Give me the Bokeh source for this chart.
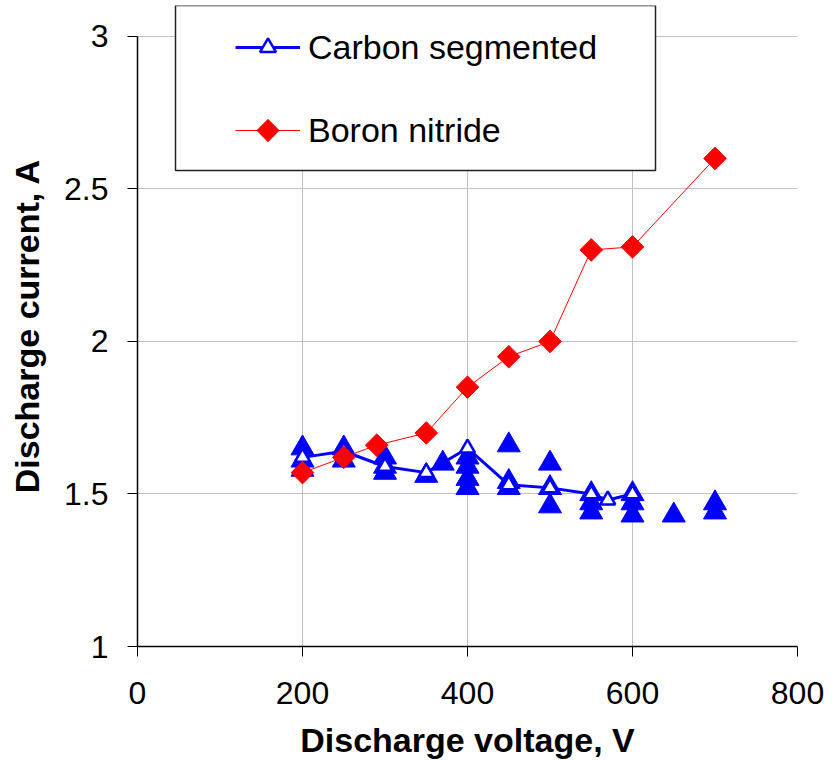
import numpy as np
from bokeh.plotting import figure
from bokeh.models import (FixedTicker, CustomJSTickFormatter, Legend, LegendItem,
                          PolyAnnotation, BoxAnnotation, Range1d)
from bokeh.embed import file_html
from bokeh.resources import INLINE

# Carbon segmented (line series, open triangles)
cs_voltage = [200, 250, 300, 350, 400, 450, 500, 550, 570, 600]
cs_current = [1.62, 1.64, 1.59, 1.57, 1.65, 1.53, 1.52, 1.50, 1.48, 1.50]

# Carbon segmented individual measurements (filled triangles)
pts_voltage = [200, 200, 200, 250, 250, 300, 300, 300, 350, 370,
               400, 400, 400, 400, 450, 450, 450, 500, 500, 500,
               550, 550, 550, 600, 600, 600, 650, 700, 700]
pts_current = [1.65, 1.61, 1.58, 1.65, 1.61, 1.62, 1.59, 1.57, 1.56, 1.60,
               1.62, 1.59, 1.55, 1.52, 1.66, 1.54, 1.52, 1.60, 1.52, 1.46,
               1.50, 1.47, 1.44, 1.50, 1.47, 1.43, 1.43, 1.47, 1.44]

# Boron nitride
bn_voltage = [200, 250, 290, 350, 400, 450, 500, 550, 600, 700]
bn_current = [1.57, 1.62, 1.66, 1.70, 1.85, 1.95, 2.00, 2.30, 2.31, 2.60]

x_ticks = [0, 200, 400, 600, 800]
y_ticks = [1, 1.5, 2, 2.5, 3]

FONT = "Liberation Sans"

# plot area: y from 1 to 3 spans 612 px; extra headroom above 3 so the
# legend frame (which sits above the top of the axis) is not clipped
AXIS_PX = 612
HEADROOM_PX = 31
y_end = y_ticks[-1] + HEADROOM_PX * (y_ticks[-1] - y_ticks[0]) / AXIS_PX

p = figure(width=838, height=761, output_backend="svg", toolbar_location=None,
           x_range=Range1d(x_ticks[0], x_ticks[-1]), y_range=Range1d(y_ticks[0], y_end),
           min_border_left=137, min_border_right=41, min_border_top=36 - HEADROOM_PX,
           min_border_bottom=113)
p.outline_line_color = None
p.background_fill_color = "white"
p.border_fill_color = "white"

for ax in (p.xaxis[0], p.yaxis[0]):
    ax.axis_line_color = "black"
    ax.axis_line_width = 1.5
    ax.major_tick_line_color = "black"
    ax.major_tick_line_width = 1
    ax.major_tick_out = 10
    ax.major_tick_in = 0
    ax.minor_tick_line_color = None
    ax.major_label_text_font = FONT
    ax.major_label_text_font_size = "32px"
    ax.major_label_text_color = "black"
    ax.axis_label_text_font = FONT
    ax.axis_label_text_font_size = "34px"
    ax.axis_label_text_font_style = "bold"
    ax.axis_label_text_color = "black"

p.yaxis.bounds = (y_ticks[0], y_ticks[-1])
p.xaxis.ticker = FixedTicker(ticks=x_ticks)
p.yaxis.ticker = FixedTicker(ticks=y_ticks)
p.yaxis.formatter = CustomJSTickFormatter(code="return String(tick)")
p.xaxis.formatter = CustomJSTickFormatter(code="return String(tick)")
p.xaxis.major_label_standoff = 25
p.yaxis.major_label_standoff = 19
p.xaxis.axis_label = "Discharge voltage, V"
p.yaxis.axis_label = "Discharge current, A"
p.xaxis.axis_label_standoff = 14
p.yaxis.axis_label_standoff = 15

p.grid.grid_line_color = "#c0c0c0"
p.grid.grid_line_width = 1
try:
    p.xgrid.cross_bounds = (y_ticks[0], y_ticks[-1])
except Exception:
    p.xgrid.grid_line_color = None
    p.segment(x0=x_ticks, y0=[y_ticks[0]] * len(x_ticks), x1=x_ticks,
              y1=[y_ticks[-1]] * len(x_ticks), line_color="#c0c0c0",
              line_width=1, level="underlay")

# filled triangles
p.scatter(pts_voltage, pts_current, marker="triangle", size=23,
          fill_color="#0000FF", line_color="#0000FF", line_width=1)

# carbon segmented line
cs_line = p.line(cs_voltage, cs_current, line_color="#0000FF", line_width=3)
cs_mark = p.scatter(cs_voltage, cs_current, marker="triangle", size=15,
                    fill_color="white", line_color="#0000FF", line_width=2.5)

# boron nitride
bn_line = p.line(bn_voltage, bn_current, line_color="#FF0000", line_width=1)
bn_mark = p.scatter(bn_voltage, bn_current, marker="square", size=16,
                    angle=np.pi / 4, fill_color="#FF0000", line_color="#FF0000")

# legend frame (frame-relative screen px)
p.add_layout(BoxAnnotation(left=38, right=518, bottom=476, top=641,
                           left_units="screen", right_units="screen",
                           bottom_units="screen", top_units="screen",
                           fill_color="white", fill_alpha=1,
                           line_color="#222222", line_width=1.5, line_alpha=1))

legend = Legend(items=[LegendItem(label="Carbon segmented", renderers=[cs_line, cs_mark]),
                       LegendItem(label="Boron nitride", renderers=[bn_line])],
                location=(98, 496), padding=0, margin=0, spacing=43,
                glyph_width=65, glyph_height=40, label_height=40,
                label_standoff=8, border_line_color=None,
                background_fill_alpha=0,
                label_text_font=FONT, label_text_font_size="34px",
                label_text_color="black")
p.add_layout(legend, "center")

# diamond swatch for the Boron nitride legend entry (frame-relative screen px)
cx, cy, r = 130.5, 516, 11.5
p.add_layout(PolyAnnotation(xs=[cx, cx + r, cx, cx - r], ys=[cy - r, cy, cy + r, cy],
                            xs_units="screen", ys_units="screen",
                            fill_color="#FF0000", fill_alpha=1,
                            line_color="#FF0000", line_width=1))

open("out.html", "w").write(file_html(p, INLINE))
